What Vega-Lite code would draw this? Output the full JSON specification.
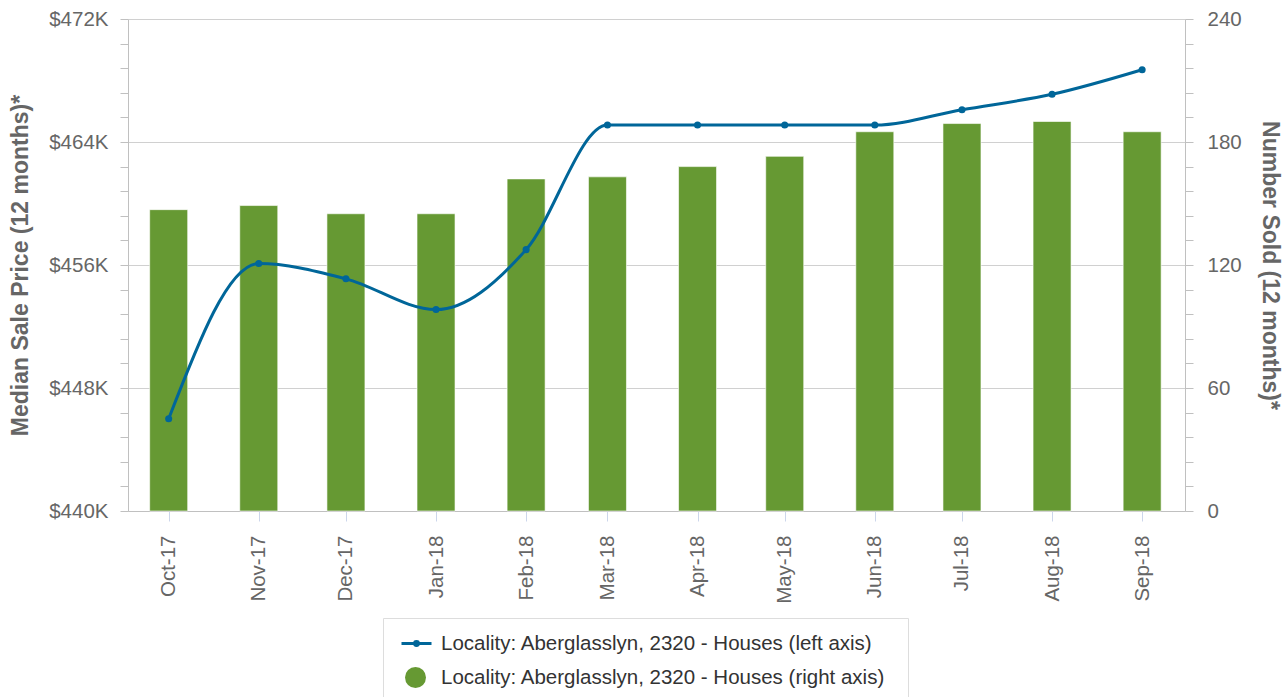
{
  "$schema": "https://vega.github.io/schema/vega-lite/v6.json",
  "width": 1057,
  "height": 492,
  "autosize": {"type": "none"},
  "padding": {"left": 128, "top": 19, "right": 103, "bottom": 186},
  "background": "white",
  "config": {"view": {"stroke": null}, "font": "Liberation Sans"},
  "data": {
    "values": [
      {"month": "2017-10-01", "price": 446000, "sold": 147},
      {"month": "2017-11-01", "price": 456100, "sold": 149},
      {"month": "2017-12-01", "price": 455100, "sold": 145},
      {"month": "2018-01-01", "price": 453100, "sold": 145},
      {"month": "2018-02-01", "price": 457000, "sold": 162},
      {"month": "2018-03-01", "price": 465100, "sold": 163},
      {"month": "2018-04-01", "price": 465100, "sold": 168},
      {"month": "2018-05-01", "price": 465100, "sold": 173},
      {"month": "2018-06-01", "price": 465100, "sold": 185},
      {"month": "2018-07-01", "price": 466100, "sold": 189},
      {"month": "2018-08-01", "price": 467100, "sold": 190},
      {"month": "2018-09-01", "price": 468700, "sold": 185}
    ]
  },
  "layer": [
    {
      "mark": {"type": "bar", "size": 38, "stroke": "#ffffff", "strokeWidth": 1, "strokeOpacity": 0.6},
      "encoding": {
        "x": {
          "field": "month",
          "type": "temporal",
          "scale": {
            "type": "utc",
            "padding": 0,
            "nice": false,
            "domain": [
              {"year": 2017, "month": 9, "date": 17, "utc": true},
              {"year": 2018, "month": 9, "date": 15, "hours": 18, "utc": true}
            ]
          },
          "axis": {
            "values": [
              {"year": 2017, "month": 10, "date": 1, "utc": true},
              {"year": 2017, "month": 11, "date": 1, "utc": true},
              {"year": 2017, "month": 12, "date": 1, "utc": true},
              {"year": 2018, "month": 1, "date": 1, "utc": true},
              {"year": 2018, "month": 2, "date": 1, "utc": true},
              {"year": 2018, "month": 3, "date": 1, "utc": true},
              {"year": 2018, "month": 4, "date": 1, "utc": true},
              {"year": 2018, "month": 5, "date": 1, "utc": true},
              {"year": 2018, "month": 6, "date": 1, "utc": true},
              {"year": 2018, "month": 7, "date": 1, "utc": true},
              {"year": 2018, "month": 8, "date": 1, "utc": true},
              {"year": 2018, "month": 9, "date": 1, "utc": true}
            ],
            "format": "%b-%y",
            "labelAngle": -90,
            "tickSize": 10,
            "tickColor": "#ccd6eb",
            "domainColor": "#c0c0c0",
            "labelFontSize": 20.5,
            "labelColor": "#666666",
            "labelPadding": 14,
            "grid": false,
            "title": null,
            "labelFlush": false,
            "labelOverlap": false,
            "labelBound": false
          }
        },
        "y": {
          "field": "sold",
          "type": "quantitative",
          "scale": {"domain": [0, 240], "nice": false, "zero": true},
          "axis": {
            "orient": "right",
            "values": [0, 12, 24, 36, 48, 60, 72, 84, 96, 108, 120, 132, 144, 156, 168, 180, 192, 204, 216, 228, 240],
            "labelExpr": "datum.value % 60 == 0 ? '' + datum.value : ''",
            "grid": false,
            "tickSize": 8,
            "tickColor": "#c0c0c0",
            "domainColor": "#c0c0c0",
            "labelFontSize": 20.5,
            "labelColor": "#666666",
            "labelPadding": 14,
            "labelOverlap": false,
            "labelFlush": false,
            "labelBound": false,
            "title": "Number Sold (12 months)*",
            "titleFontSize": 23,
            "titleFontWeight": "bold",
            "titleColor": "#666666",
            "titlePadding": 16
          }
        },
        "color": {
          "datum": "Locality: Aberglasslyn, 2320 - Houses (right axis)",
          "scale": {"range": ["#669933"]},
          "legend": {
            "orient": "none",
            "legendX": 255,
            "legendY": 599,
            "direction": "vertical",
            "title": " ",
            "titleFontSize": 22,
            "titlePadding": 5,
            "padding": 22,
            "strokeColor": "#dddddd",
            "symbolSize": 441,
            "symbolType": "circle",
            "symbolStrokeWidth": 0,
            "symbolOpacity": 1,
            "labelFontSize": 20.5,
            "labelColor": "#333333",
            "labelOffset": 15,
            "labelLimit": 0
          }
        }
      }
    },
    {
      "mark": {"type": "line", "interpolate": "monotone", "strokeWidth": 3, "point": {"filled": true, "size": 50}},
      "encoding": {
        "x": {"field": "month", "type": "temporal"},
        "y": {
          "field": "price",
          "type": "quantitative",
          "scale": {"domain": [440000, 472000], "nice": false, "zero": false},
          "axis": {
            "orient": "left",
            "values": [440000, 441600, 443200, 444800, 446400, 448000, 449600, 451200, 452800, 454400, 456000, 457600, 459200, 460800, 462400, 464000, 465600, 467200, 468800, 470400, 472000],
            "labelExpr": "datum.value % 8000 == 0 ? '$' + (datum.value / 1000) + 'K' : ''",
            "grid": true,
            "gridColor": "#d0d0d0",
            "gridOpacity": {"condition": {"test": "datum.value % 8000 == 0", "value": 1}, "value": 0},
            "tickSize": 8,
            "tickColor": "#c0c0c0",
            "domainColor": "#c0c0c0",
            "labelFontSize": 20.5,
            "labelColor": "#666666",
            "labelPadding": 12,
            "labelOverlap": false,
            "labelFlush": false,
            "labelBound": false,
            "title": "Median Sale Price (12 months)*",
            "titleFontSize": 23,
            "titleFontWeight": "bold",
            "titleColor": "#666666",
            "titlePadding": 16
          }
        },
        "color": {
          "datum": "Locality: Aberglasslyn, 2320 - Houses (left axis)",
          "scale": {"range": ["#006699"]},
          "legend": {
            "orient": "none",
            "legendX": 272,
            "legendY": 608,
            "direction": "vertical",
            "title": null,
            "padding": 0,
            "symbolSize": 900,
            "symbolType": "M-1,0L1,0M0.13,0A0.13,0.13,0,1,1,-0.13,0A0.13,0.13,0,1,1,0.13,0Z",
            "symbolStrokeWidth": 3,
            "symbolStrokeColor": "#006699",
            "symbolFillColor": "#006699",
            "symbolOpacity": 1,
            "labelFontSize": 20.5,
            "labelColor": "#333333",
            "labelOffset": 8,
            "labelLimit": 0
          }
        }
      }
    }
  ],
  "resolve": {"scale": {"y": "independent", "color": "independent"}}
}
